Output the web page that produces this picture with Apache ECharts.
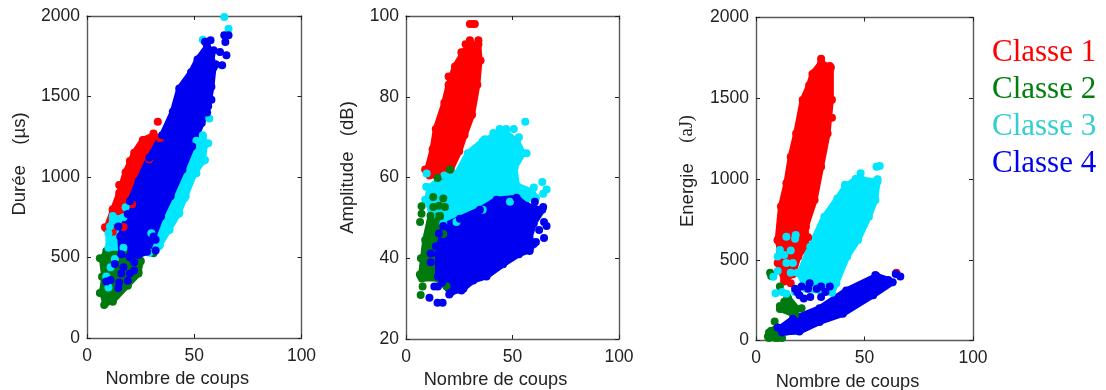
<!DOCTYPE html>
<html><head><meta charset="utf-8">
<style>html,body{margin:0;padding:0;background:#fff}#c{width:1106px;height:390px}</style>
<script src="https://cdn.jsdelivr.net/npm/echarts@6/dist/echarts.min.js"></script>
</head><body><div id="c"></div>
<script>
const classNames = ['Classe 1','Classe 2','Classe 3','Classe 4'];
const xTitle = 'Nombre de coups';

// Dense clouds: hand-read contours [coups, value] plus the isolated dots.
const dureeC1Contour = [[9,680],[12,790],[15,900],[18,1030],[22,1150],[26,1230],[31,1260],[34,1240],[29,1110],[21,830],[17,690],[12,660]];
const dureeC1Dots = [[8.4,688],[33,1343],[31,1270],[27,1230],[20,1100],[15,950],[12,800],[11.5,685]];
const dureeC2Contour = [[7,490],[9,540],[17,540],[25,475],[24,400],[19,330],[12,230],[8.5,215],[7,285],[8,380]];
const dureeC2Dots = [[6,496],[7,380],[6,280],[8,205],[12,225],[25,480],[31,527],[24,410],[19,325]];
const dureeC3Contour = [[10,560],[10,650],[12,740],[17,750],[30,650],[51,1225],[54,1245],[55,1200],[54,1100],[50,1020],[45.5,870],[42.5,770],[38,670],[33.5,570],[29,530],[17,560]];
const dureeC3Dots = [[64,1994],[66,1921],[54,1853],[57,1364],[60,1694],[34,578],[10,314],[9,382],[12,758],[10.7,692],[18,812],[54,1260],[56.5,1209],[55,1105],[51,1023],[46,880],[43,775],[38.5,672],[11,440],[13,490]];
const dureeC4Contour = [[20,850],[24,975],[29,1120],[35,1260],[40,1405],[43,1550],[48.5,1650],[51.5,1730],[56,1810],[58,1760],[59,1680],[58,1560],[56.5,1440],[53.5,1335],[49,1190],[44.5,1045],[39,880],[34.5,755],[31,630],[28,535],[24,515],[16,520],[15.5,630],[19,770]];
const dureeC4Dots = [[64,1880],[66,1880],[64.5,1839],[65,1756],[63,1694],[59,1787],[62,1777],[57.6,1849],[55,1840],[60,1700],[52.6,1736],[32,610],[32,543],[14.6,692],[18,620],[9,351],[14.6,310],[11,360],[15,345],[19,355],[22,420],[13,460],[17,440],[22,470],[20,500],[58,1480],[56,1400],[16,400],[20,400]];

const ampC1Contour = [[10,62],[12.5,67],[14,72],[18,78.5],[20,83],[23,87.5],[27,91],[30,93],[34,93],[34.5,89],[33.5,83],[31,75.5],[27.5,70.5],[25,66.5],[21,62],[17,60.5],[11,60.5]];
const ampC1Dots = [[30,98],[31,98],[32.3,98],[34,94],[30,94],[26,91],[35,89],[9,62],[20,85],[28,93]];
const ampC2Contour = [[7,35.5],[9,44.5],[11.5,50.5],[16,50.5],[17.5,46],[15,35],[7.5,35]];
const ampC2Dots = [[7.3,52.9],[7.3,51],[6.6,49],[7.8,33],[6.9,30.9],[19,33],[14.8,59.9],[20.6,62],[17.5,54.8],[18.3,52.7],[12.8,55.2],[12.8,52.7],[15.5,53],[6.5,36],[7,40]];
const ampC3Contour = [[10,54.5],[11,57.5],[18,60.5],[24,61],[29,66],[36,69],[44,71],[47,71],[52,69],[55,66],[51,62.5],[52,58],[59,56.5],[61,55],[48.8,54],[36,52],[23.7,49],[17.5,48.6],[12,50.7]];
const ampC3Dots = [[56,73.8],[50.6,72],[64,58.9],[66,57],[64.4,56],[56.6,66],[9.7,61],[44,72],[47,72],[41,71],[37,69.5],[53,70],[60,57.5],[9.5,57.7],[9,54.5]];
const ampC4Contour = [[15,35.5],[15,41],[17.5,48],[25.3,49.8],[34.7,52],[42.5,54.5],[51.9,55],[56.6,53],[64,52],[60,48.6],[58,45],[60,43.5],[58,42],[53,41],[45.6,38.5],[37.8,35.5],[31.6,34.5],[27,32.5],[21,31.5],[17,34]];
const ampC4Dots = [[60.5,54],[64.4,52.7],[64.8,49],[62.5,47],[66,48],[64.8,45],[11,30.2],[14.8,29],[17.2,29],[13.3,33],[11.6,41.2],[11.6,39],[14,43],[15.5,46.1],[20.3,31],[61,44],[58,41.8],[26,32],[15,33],[56,46]];

const enerC1Contour = [[10,623],[11.5,829],[14,973],[16,1138],[18.5,1282],[21.5,1489],[24.5,1580],[26,1650],[30,1720],[34.5,1690],[34.5,1489],[33,1282],[30,1076],[27,870],[23,705],[23,590],[19.5,520],[17,410],[13,375],[10,480],[11,560]];
const enerC1Dots = [[30,1745],[34,1700],[27,1660],[35,1490],[35,1380],[10,620],[12,800],[24,640],[13,365],[16,355],[64.7,420],[11.5,480]];
const enerC2Contour = [[11,195],[14.5,270],[19,195],[17,165]];
const enerC2Dots = [[5.5,25],[7,60],[8.6,117],[7,400],[6.5,420],[11,214],[14.7,262],[16.3,179],[21,200],[13,240],[11,334],[10,15],[7,20],[8,50],[12,15],[8,25],[10,40],[18,160],[6,50],[6,15],[9,70],[9,15],[11,35]];
const enerC3Contour = [[20,416],[25,581],[31.5,767],[37.5,880],[41,950],[46,1000],[56,985],[55,870],[52,767],[47,623],[42,520],[37,355],[35,295],[23,320]];
const enerC3Dots = [[57,1080],[55.5,1076],[48.2,1035],[46,1000],[49,994],[56,998],[14,643],[18.3,654],[18,630],[16,557],[9,293],[12,300],[8,395],[10,430],[11,560],[10,520],[14,480],[19,420],[16,420],[13,530],[17,480],[18,300],[14,290],[41,965],[52,950]];
const enerC4Contour = [[11,76],[17,135],[29.3,200],[41.6,310],[55.5,400],[61,375],[63,360],[54,280],[40,165],[29.3,115],[20,55],[12,50]];
const enerC4Dots = [[64.4,412],[66.5,396],[24.7,355],[18,320],[21,335],[30,335],[34,334],[19,300],[24,320],[28,320],[32,300],[22,260],[25,270],[30,270],[10,80],[14,55],[55,405],[20,280]];

const tickStepX = 50;
const panels = [
  {name:'Durée    (µs)', gap:58, shift:26, yMin:0, yMax:2000, yStep:500, grid:[87,16,214.5,322],
   sets:[[dureeC1Contour,dureeC1Dots,0],[dureeC2Contour,dureeC2Dots,1],[dureeC3Contour,dureeC3Dots,2],[dureeC4Contour,dureeC4Dots,3]]},
  {name:'Amplitude   (dB)', gap:49, shift:20, yMin:20, yMax:100, yStep:20, grid:[406,16,213,323],
   sets:[[ampC1Contour,ampC1Dots,0],[ampC3Contour,ampC3Dots,2],[ampC2Contour,ampC2Dots,1],[ampC4Contour,ampC4Dots,3]]},
  {name:'Energie    {s|(aJ)}', gap:59, shift:16, yMin:0, yMax:2000, yStep:500, grid:[756,17.5,217,323],
   sets:[[enerC1Contour,enerC1Dots,0],[enerC2Contour,enerC2Dots,1],[enerC3Contour,enerC3Dots,2],[enerC4Contour,enerC4Dots,3]]}
];
const dotColors = ['#ff0000','#007a0e','#00e6ff','#0000f0'];
const legendColors = ['#ff0000','#007f0e','#33cfd0','#0000f0'];
const textColor = '#222';
const frame = '#5a5a5a';

const grids=[],xAxes=[],yAxes=[],series=[];
panels.forEach((p,i)=>{
  grids.push({left:p.grid[0],top:p.grid[1],width:p.grid[2],height:p.grid[3],containLabel:false,outerBoundsMode:'none'});
  const line={show:true,onZero:false,lineStyle:{color:frame,width:1.4}};
  const tick={show:true,inside:true,length:4,lineStyle:{color:'#222',width:1}};
  const lab={show:true,color:textColor,fontFamily:'Liberation Sans',fontSize:17.5,formatter:v=>String(v)};
  [['bottom',true],['top',false]].forEach(([pos,main])=>xAxes.push({
    type:'value',gridIndex:i,position:pos,min:0,max:100,interval:tickStepX,splitLine:{show:false},
    axisLine:line,axisTick:tick,
    axisLabel:main?Object.assign({margin:9,alignMinLabel:'center',alignMaxLabel:'center'},lab):{show:false},
    name:main?xTitle:'',nameLocation:'middle',nameGap:32,
    nameTextStyle:{color:textColor,fontFamily:'Liberation Sans',fontSize:18.2,padding:[0,34,0,0]}}));
  [['left',true],['right',false]].forEach(([pos,main])=>yAxes.push({
    type:'value',gridIndex:i,position:pos,min:p.yMin,max:p.yMax,interval:p.yStep,splitLine:{show:false},
    axisLine:line,axisTick:tick,
    axisLabel:main?Object.assign({margin:7,verticalAlignMinLabel:'middle',verticalAlignMaxLabel:'middle'},lab):{show:false},
    name:main?p.name:'',nameLocation:'middle',nameGap:p.gap,
    nameTextStyle:{color:textColor,fontFamily:'Liberation Sans',fontSize:18.5,padding:[0,0,0,p.shift],
      rich:{s:{fontFamily:'Liberation Serif',fontSize:18.5,color:textColor}}}}));
  p.sets.forEach(([contour,dots,c])=>{
    series.push({type:'custom',name:classNames[c],xAxisIndex:2*i,yAxisIndex:2*i,data:contour,silent:true,
      renderItem:(params,api)=>params.dataIndex!==0?null:{type:'polygon',
        shape:{points:contour.map(q=>api.coord(q))},
        style:{fill:dotColors[c],stroke:dotColors[c],lineWidth:6,lineJoin:'round'}}});
    series.push({type:'scatter',name:classNames[c],xAxisIndex:2*i,yAxisIndex:2*i,symbolSize:8,
      data:contour.concat(dots),itemStyle:{color:dotColors[c],opacity:1},silent:true});
  });
});
const chart=echarts.init(document.getElementById('c'),null,{renderer:'canvas'});
chart.setOption({
  animation:false,backgroundColor:'#fff',
  grid:grids,xAxis:xAxes,yAxis:yAxes,series:series,
  legend:{orient:'vertical',left:982,top:31,itemGap:3,itemWidth:0,itemHeight:0,selectedMode:false,
    textStyle:{fontFamily:'Liberation Serif',fontSize:31,lineHeight:34},
    data:classNames.map((n,k)=>({name:n,icon:'none',textStyle:{color:legendColors[k],fontFamily:'Liberation Serif',fontSize:31,lineHeight:34}}))}
});
</script></body></html>
